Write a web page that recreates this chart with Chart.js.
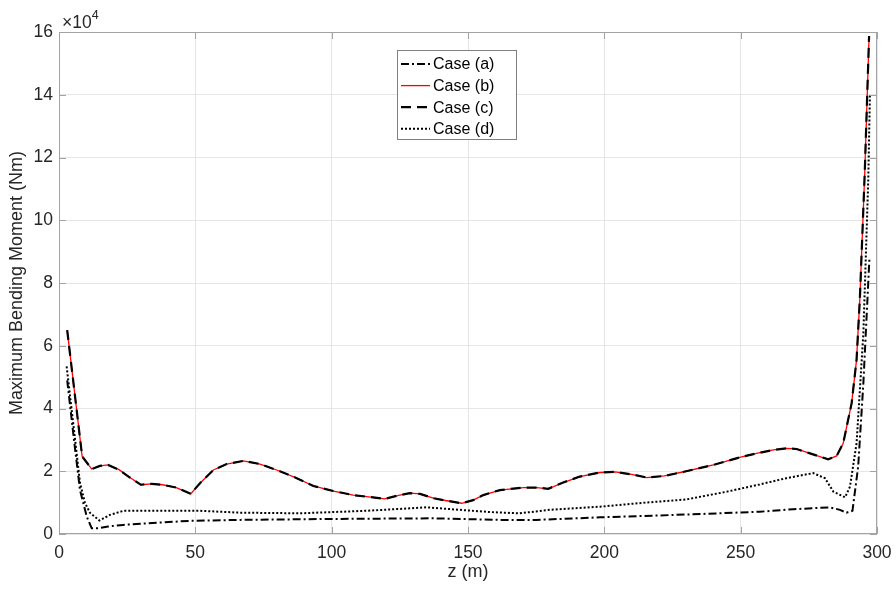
<!DOCTYPE html>
<html>
<head>
<meta charset="utf-8">
<script src="https://cdn.jsdelivr.net/npm/chart.js@4.4.1/dist/chart.umd.min.js"></script>
<style>
  html, body { margin: 0; padding: 0; background: #fff; }
  canvas { display: block; }
</style>
</head>
<body>
<canvas id="momentChart" width="896" height="592"></canvas>
<script>
// position along the line z (m) and maximum bending moment (Nm)
var zA = [3, 5.5, 7.7, 10.2, 12, 14.4, 18, 23.6, 35.8, 48, 66.4, 100.6, 137.3, 161.7, 175, 198.4, 230, 257, 269.3, 282.7, 286.4, 288.8, 291, 293.1, 295, 297.2];
var caseA = [49000, 30000, 14000, 5500, 1800, 1800, 2400, 2900, 3600, 4200, 4500, 4800, 5000, 4500, 4500, 5300, 6200, 7100, 7900, 8500, 7700, 6800, 7400, 21500, 48100, 87400];

var zB = [3, 8.5, 12, 15, 18, 22, 26, 30, 34, 38, 43, 48.3, 51.7, 56.6, 61.5, 67.6, 73.7, 79.8, 87.2, 93.3, 100.6, 107.9, 112.8, 119.5, 125, 128.7, 132.4, 137.3, 142.2, 147.7, 151.9, 155.6, 161.7, 170.3, 175.2, 179.4, 184.9, 191, 198.4, 204, 210, 215.6, 222, 230, 240, 250, 257, 262, 266.8, 270.5, 275.4, 282.1, 285.2, 287.6, 290.7, 292.5, 293.7, 295.5, 297.1];
var caseB = [65000, 24700, 20700, 21700, 22000, 20500, 18000, 15700, 16000, 15700, 14800, 12800, 16200, 20400, 22300, 23300, 22300, 20400, 17800, 15300, 13700, 12400, 11900, 11200, 12400, 13000, 12800, 11400, 10600, 9800, 10800, 12400, 14000, 14800, 14800, 14400, 16400, 18300, 19600, 19800, 19000, 18000, 18500, 20000, 22000, 24500, 25900, 26800, 27300, 27100, 25700, 23800, 24900, 28900, 41700, 55500, 74700, 115000, 158700];
// case (c) runs on top of case (b)
var zC = zB;
var caseC = caseB.slice();

var zD = [2.8, 5.2, 7.7, 9.5, 11.4, 14.8, 18.7, 23.6, 35.8, 51.7, 66.4, 88.4, 112.8, 125, 134.8, 147, 158, 169, 180, 198.4, 215, 230, 245, 257, 266.8, 276.6, 280.9, 284, 288.3, 290.1, 292.5, 295, 296.8, 297.4];
var caseD = [53400, 35400, 16300, 10000, 6700, 4300, 6100, 7400, 7400, 7400, 6800, 6600, 7400, 8000, 8500, 7700, 7000, 6600, 7700, 8700, 10000, 11000, 13500, 15800, 17800, 19400, 17800, 13500, 11700, 15100, 28900, 64000, 113000, 140000];

var xTicks = [0, 50, 100, 150, 200, 250, 300];
var yTicks = [0, 20000, 40000, 60000, 80000, 100000, 120000, 140000, 160000];

function toPoints(z, m) {
    return z.map(function (v, i) { return { x: v, y: m[i] }; });
}

var FONT = '"Liberation Sans", Arial, Helvetica, sans-serif';
var INK = '#262626';

// MATLAB-style box: frame on all four sides, inward ticks, x10^4 multiplier, legend
var boxPlugin = {
    id: 'boxPlugin',
    afterDraw: function (chart) {
        var ctx = chart.ctx, a = chart.chartArea;
        var xs = chart.scales.x, ys = chart.scales.y;
        ctx.save();
        ctx.strokeStyle = '#a3a3a3';
        ctx.lineWidth = 1;
        ctx.strokeRect(a.left + 0.5, a.top + 0.5, a.right - a.left - 1, a.bottom - a.top - 1);
        ctx.beginPath();
        xs.ticks.forEach(function (t) {
            var px = Math.round(xs.getPixelForValue(t.value)) + 0.5;
            ctx.moveTo(px, a.bottom); ctx.lineTo(px, a.bottom - 7);
            ctx.moveTo(px, a.top); ctx.lineTo(px, a.top + 7);
        });
        ys.ticks.forEach(function (t) {
            var py = Math.round(ys.getPixelForValue(t.value)) + 0.5;
            ctx.moveTo(a.left, py); ctx.lineTo(a.left + 7, py);
            ctx.moveTo(a.right, py); ctx.lineTo(a.right - 7, py);
        });
        ctx.stroke();

        // exponent label above the y axis
        ctx.fillStyle = INK;
        ctx.textBaseline = 'alphabetic';
        ctx.textAlign = 'left';
        ctx.font = '17.5px ' + FONT;
        ctx.fillText('\u00d710', 62, 28);
        var w = ctx.measureText('\u00d710').width;
        ctx.font = '12.5px ' + FONT;
        ctx.fillText('4', 62 + w, 19);

        // legend box
        var lx = 397, ly = 50, lw = 119, lh = 89;
        ctx.fillStyle = '#ffffff';
        ctx.fillRect(lx, ly, lw, lh);
        ctx.strokeStyle = '#7f7f7f';
        ctx.strokeRect(lx + 0.5, ly + 0.5, lw, lh);
        ctx.font = '16px ' + FONT;
        ctx.textBaseline = 'middle';
        chart.data.datasets.forEach(function (ds, i) {
            var y = ly + 14 + i * 21.6;
            ctx.save();
            ctx.strokeStyle = ds.borderColor;
            ctx.lineWidth = ds.borderWidth;
            ctx.setLineDash(ds.borderDash || []);
            ctx.beginPath();
            ctx.moveTo(lx + 4, y);
            ctx.lineTo(lx + 33, y);
            ctx.stroke();
            ctx.restore();
            ctx.fillStyle = '#000';
            ctx.fillText(ds.label, lx + 36, y + 1);
        });
        ctx.restore();
    }
};

var momentChart = new Chart("momentChart", {
    type: "line",
    data: {
        datasets: [{
            label: "Case (a)",
            data: toPoints(zA, caseA),
            borderColor: "#000000",
            borderWidth: 2,
            borderDash: [8, 3, 2, 3],
            order: 2
        }, {
            label: "Case (b)",
            data: toPoints(zB, caseB),
            borderColor: "#ff0000",
            borderWidth: 1.3,
            order: 3
        }, {
            label: "Case (c)",
            data: toPoints(zC, caseC),
            borderColor: "#000000",
            borderWidth: 2.2,
            borderDash: [10, 6],
            order: 1
        }, {
            label: "Case (d)",
            data: toPoints(zD, caseD),
            borderColor: "#000000",
            borderWidth: 2,
            borderDash: [2, 2],
            order: 0
        }]
    },
    options: {
        responsive: false,
        animation: false,
        parsing: false,
        elements: {
            point: { radius: 0 },
            line: { tension: 0, fill: false }
        },
        layout: { padding: { top: 32, right: 19, left: 0, bottom: 0 } },
        plugins: {
            legend: { display: false },
            tooltip: { enabled: false }
        },
        scales: {
            x: {
                type: "linear",
                min: 0,
                max: 300,
                afterBuildTicks: function (s) { s.ticks = xTicks.map(function (v) { return { value: v }; }); },
                afterFit: function (s) { s.height = 58; s.paddingLeft = 0; s.paddingRight = 0; },
                grid: { color: "#e6e6e6", drawTicks: false },
                border: { display: false },
                ticks: { color: INK, padding: 9, maxRotation: 0, font: { family: FONT, size: 17.5 } },
                title: { display: true, text: "z (m)", color: INK, padding: { top: 0, bottom: 9 }, font: { family: FONT, size: 18 } }
            },
            y: {
                min: 0,
                max: 160000,
                afterBuildTicks: function (s) { s.ticks = yTicks.map(function (v) { return { value: v }; }); },
                afterFit: function (s) { s.width = 59; s.paddingTop = 0; s.paddingBottom = 0; },
                grid: { color: "#e6e6e6", drawTicks: false },
                border: { display: false },
                ticks: {
                    color: INK,
                    padding: 6,
                    font: { family: FONT, size: 17.5 },
                    callback: function (v) { return v / 10000; }
                },
                title: { display: true, text: "Maximum Bending Moment (Nm)", color: INK, padding: { top: 6, bottom: 0 }, font: { family: FONT, size: 18 } }
            }
        }
    },
    plugins: [boxPlugin]
});
</script>
</body>
</html>
